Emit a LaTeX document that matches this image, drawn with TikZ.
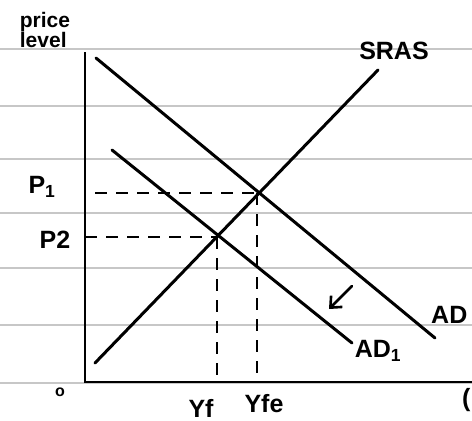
\documentclass[tikz,border=0pt]{standalone}
\usepackage{fontspec}
\setmainfont{Liberation Sans}
\usetikzlibrary{arrows.meta}
\begin{document}
\begin{tikzpicture}[x=1pt,y=-1pt,
  rule/.style={draw=black!22,line width=1.2pt},
  curve/.style={draw=black,line width=3pt,line cap=round},
  axis/.style={draw=black,line width=2.6pt},
  guide/.style={draw=black,line width=2pt,dash pattern=on 12pt off 9pt},
  hand/.style={font=\fontsize{25}{26}\selectfont\bfseries,inner sep=0pt},
  shiftarrow/.style={draw=black,line width=2.6pt,line cap=round,-{Straight Barb[length=9pt,width=16pt,line width=2.6pt]}}]
\useasboundingbox (0,0) rectangle (472,421);
\fill[white] (0,0) rectangle (472,421);
% ruled paper
\foreach \yy [count=\i] in {49,106,159,213,268,325,383}{
  \coordinate (rl\i) at (0,\yy);
  \coordinate (rr\i) at (472,\yy);
  \draw[rule] (rl\i) -- (rr\i);
}
% axes
\coordinate (origin) at (85,382);
\coordinate (ytop) at (85,52);
\coordinate (xend) at (472,382);
\draw[axis] (ytop) -- (origin) -- (xend);
% curves
\coordinate (srasLo) at (95,363);
\coordinate (srasHi) at (378,70);
\coordinate (adHi) at (96,58);
\coordinate (adLo) at (435,338);
\coordinate (adoneHi) at (112,150);
\coordinate (adoneLo) at (352,343);
\coordinate (eone) at (257,193);
\coordinate (etwo) at (217,237);
\coordinate (pone) at (95,193);
\coordinate (ptwo) at (85,237);
\coordinate (yf) at (217,382);
\coordinate (yfe) at (257,382);
\draw[curve] (srasLo) -- (srasHi);
\draw[curve] (adHi) -- (adLo);
\draw[curve] (adoneHi) -- (adoneLo);
% dashed guides
\draw[guide] (pone) -- (eone);
\draw[guide] (ptwo) -- (etwo);
\draw[guide] (eone) -- (yfe);
\draw[guide] (etwo) -- (yf);
% shift arrow
\coordinate (arrTail) at (352,286);
\coordinate (arrHead) at (329,309);
\draw[shiftarrow] (arrTail) -- (arrHead);
% labels
\node[hand,align=left,font=\fontsize{21}{19}\selectfont\bfseries] (pl) at (45,30) {price\\level};
\node[hand] (sras) at (394,51) {SRAS};
\node[hand,anchor=west] (ad) at (431,315) {AD};
\node[hand] (adone) at (378,351) {AD\textsubscript{1}};
\node[hand] (p1) at (42,187) {P\textsubscript{1}};
\node[hand] (p2) at (55,240) {P2};
\node[hand,font=\fontsize{16}{16}\selectfont\bfseries] (zero) at (60,392) {o};
\node[hand] (yfl) at (201,408) {Yf};
\node[hand] (yfel) at (264,404) {Yfe};
\node[hand,anchor=west] (cut) at (462,400) {(};
\end{tikzpicture}
\end{document}
